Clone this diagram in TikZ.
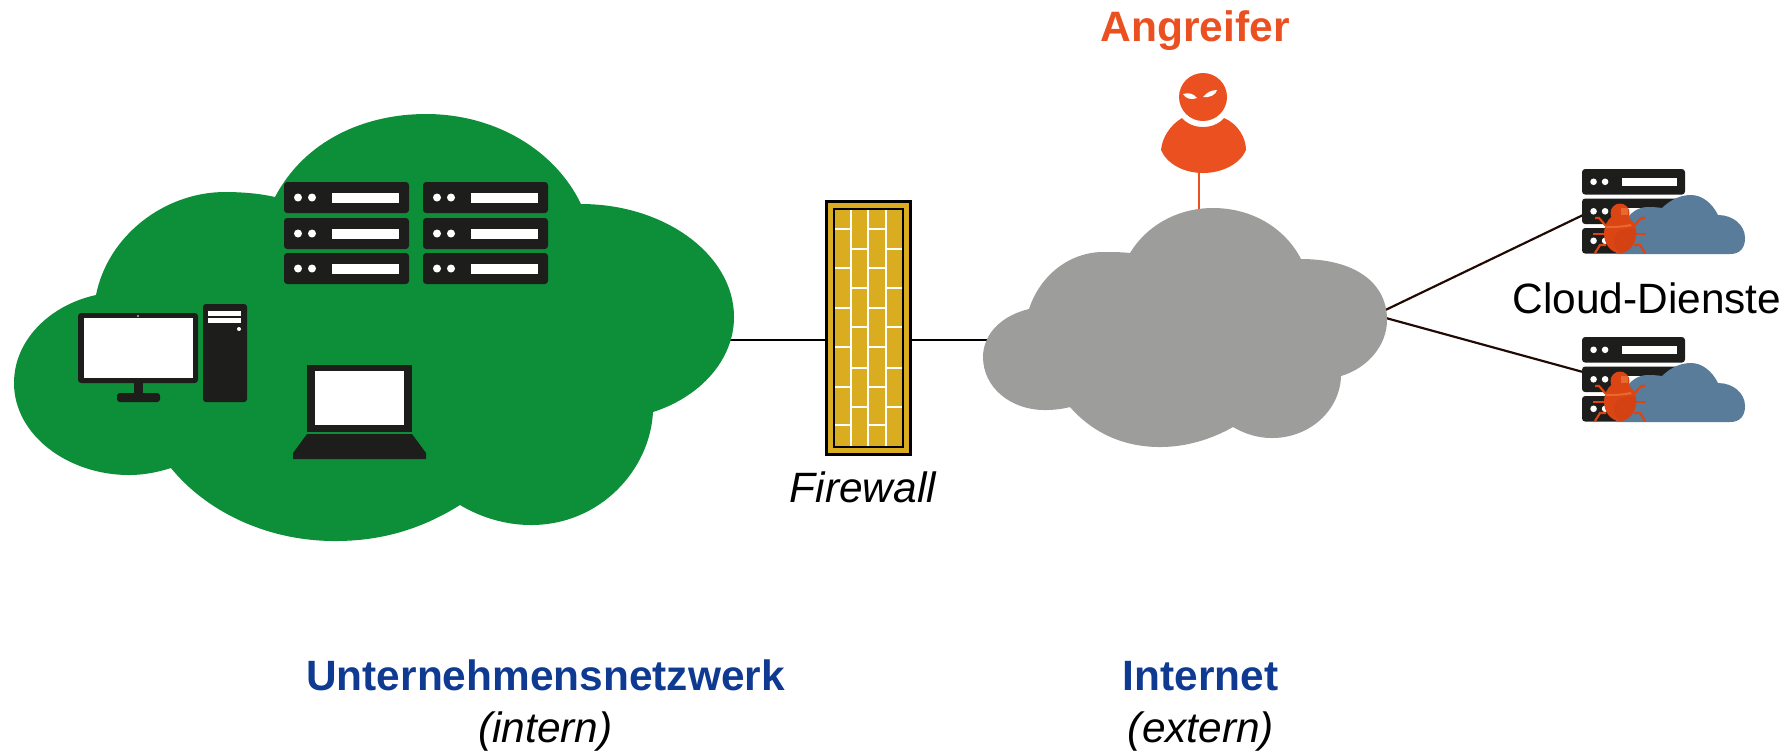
\documentclass[tikz,border=0pt]{standalone}
\usepackage{fontspec}
\setmainfont{Liberation Sans}
\definecolor{netgreen}{HTML}{0D8E38}
\definecolor{netgrey}{HTML}{9D9D9C}
\definecolor{devdark}{HTML}{1D1D1B}
\definecolor{attack}{HTML}{EB5120}
\definecolor{wallyellow}{HTML}{DAAC20}
\definecolor{titleblue}{HTML}{0F3A92}
\definecolor{cloudblue}{HTML}{587C99}
\definecolor{bugred}{HTML}{DA4513}
\definecolor{buglight}{HTML}{E8692F}
\definecolor{bugdark}{HTML}{D44112}
\tikzset{
  label12/.style={inner sep=0pt,anchor=base,font=\fontsize{12.06}{14}\selectfont},
  title/.style={label12,text=titleblue,font=\fontsize{12.06}{14}\selectfont\bfseries},
  sub/.style={label12,text=black,font=\fontsize{12.06}{14}\selectfont\itshape},
  link/.style={draw=black,line width=0.6pt},
  extlink/.style={draw=black!85!bugred,line width=0.62pt},
  mortar/.style={draw=white,line width=0.55pt},
  dev/.style={fill=devdark,draw=none},
  hole/.style={fill=white,draw=none},
  leg/.style={draw=bugred,line width=0.62pt},
  wallbox/.style={draw=black,fill=wallyellow,line width=0.8pt,minimum width=0.84cm,minimum height=2.53cm,inner sep=0pt},
}
\newcommand{\rack}[3]{%
  \begin{scope}[shift={(#1,#2)},scale=#3]
    \fill[dev,rounded corners=0.9pt] (0,0) rectangle (125,31);
    \fill[hole] (14,15.5) circle [radius=4];
    \fill[hole] (28,15.5) circle [radius=4];
    \fill[hole] (48,11) rectangle (115,21);
  \end{scope}}
\newcommand{\infected}[1]{%
  \begin{scope}[shift={(0,#1)}]
    \rack{1582}{169}{0.824}
    \rack{1582}{198.5}{0.824}
    \rack{1582}{228}{0.824}
    \fill[cloudblue] (1616,254) -- (1730,254) .. controls (1740,254) and (1745,248) .. (1745,238)
      .. controls (1745,225) and (1733,215) .. (1718,215)
      .. controls (1712,203) and (1702,195) .. (1691,195)
      .. controls (1680,195) and (1670,200) .. (1662,208)
      .. controls (1656,207) and (1651,207) .. (1648,207)
      .. controls (1630,207) and (1618,225) .. cycle;
    \draw[leg] (1593,234) -- (1646,234);
    \draw[leg] (1606,226) -- (1599,218) -- (1595,218);
    \draw[leg] (1634,226) -- (1641,218) -- (1645,218);
    \draw[leg] (1606,245) -- (1600,245) -- (1595,253);
    \draw[leg] (1634,245) -- (1640,245) -- (1645,253);
    \fill[bugred] (1620,213) circle [radius=9.5];
    \fill[bugred] (1620,233.5) ellipse [x radius=16,y radius=19.5];
    \fill[buglight] (1621,208) rectangle (1628,215);
    \fill[buglight] (1605,226) .. controls (1612,226) and (1622,226) .. (1630,224) -- (1632,226) .. controls (1622,228) and (1612,228) .. (1606,228) -- cycle;
    \fill[bugdark] (1620,253) .. controls (1612,246) and (1612,234) .. (1622,230) .. controls (1630,228) and (1634,228) .. (1636,230) .. controls (1637,243) and (1630,252) .. (1620,253) -- cycle;
  \end{scope}}
\begin{document}
\begin{tikzpicture}[x=0.01cm,y=-0.01cm]
\useasboundingbox (0,0) rectangle (1789,750);

% firewall
\node[wallbox] (fw) at (868.5,328) {};
\draw[draw=black,line width=0.6pt] (834,209) rectangle (903,447);
\foreach \xa in {851,868,886} \draw[mortar] (\xa,210) -- (\xa,446);
\foreach \ya in {229,268,308,347,387,425} {
  \draw[mortar] (835,\ya) -- (851,\ya);
  \draw[mortar] (868,\ya) -- (886,\ya);
}
\foreach \ya in {249,288,327,368,407} {
  \draw[mortar] (851,\ya) -- (868,\ya);
  \draw[mortar] (886,\ya) -- (902,\ya);
}

% connector ends
\coordinate (greenport) at (725,340);
\coordinate (greyport) at (1000,340);
\coordinate (attackfoot) at (1199,215);
\coordinate (attackneck) at (1199,170);
\coordinate (greyup) at (1375,315);
\coordinate (greydown) at (1375,315);
\coordinate (rackup) at (1583,215);
\coordinate (rackdown) at (1583,372);

\draw[link] (greenport) -- (fw.west |- greenport);
\draw[link] (fw.east |- greyport) -- (greyport);
\draw[draw=attack,line width=0.6pt] (attackneck) -- (attackfoot);
\draw[extlink] (greyup) -- (rackup);
\draw[extlink] (greydown) -- (rackdown);

% green cloud
\fill[netgreen] (96,295) .. controls (108,235) and (165,192) .. (225,192)
  .. controls (245,192) and (262,194) .. (275,197)
  .. controls (305,140) and (365,114) .. (426,114)
  .. controls (495,114) and (555,150) .. (581,204)
  .. controls (665,204) and (734,255) .. (734,317)
  .. controls (734,360) and (700,397) .. (653,412)
  .. controls (650,470) and (600,525) .. (531,525)
  .. controls (505,525) and (480,517) .. (460,505)
  .. controls (420,530) and (380,541) .. (335,541)
  .. controls (265,541) and (205,510) .. (171,468)
  .. controls (155,473) and (142,475) .. (129,475)
  .. controls (68,475) and (14,435) .. (14,383)
  .. controls (14,340) and (50,305) .. cycle;

% grey cloud
\fill[netgrey] (1029,309) .. controls (1040,275) and (1070,252) .. (1103,252)
  .. controls (1112,252) and (1122,252) .. (1130,253)
  .. controls (1147,225) and (1178,208) .. (1213,208)
  .. controls (1252,208) and (1285,228) .. (1301,259)
  .. controls (1354,259) and (1387,282) .. (1387,320)
  .. controls (1387,345) and (1368,368) .. (1341,376)
  .. controls (1340,410) and (1310,438) .. (1272,438)
  .. controls (1258,438) and (1245,434) .. (1233,427)
  .. controls (1210,440) and (1185,447) .. (1160,447)
  .. controls (1120,447) and (1090,430) .. (1070,407)
  .. controls (1062,409) and (1054,410) .. (1045,410)
  .. controls (1010,410) and (983,387) .. (983,357)
  .. controls (983,333) and (1003,315) .. cycle;

% servers in the green cloud
\foreach \xa in {284,423} \foreach \ya in {182,218,253} { \rack{\xa}{\ya}{1} }

% desktop
\fill[dev,rounded corners=0.9pt] (78,313) rectangle (198,383);
\fill[hole] (84,318) rectangle (193,378);
\fill[hole] (138,316) circle [radius=0.8];
\fill[dev] (134,382) rectangle (143,394);
\fill[dev,rounded corners=0.8pt] (117,393) rectangle (160,402);
\fill[dev,rounded corners=0.8pt] (203,304) rectangle (247,402);
\fill[hole] (208,311) rectangle (241,316);
\fill[hole] (208,318) rectangle (241,323);
\fill[hole] (239,329) circle [radius=2];

% laptop
\fill[dev] (307,365) rectangle (412,432);
\fill[hole] (315,371) rectangle (404,425);
\fill[dev] (307,434) -- (412,434) -- (426,453) -- (426,459) -- (293,459) -- (293,453) -- cycle;

% attacker
\fill[attack] (1203,97) circle [radius=24];
\fill[attack] (1182,118) .. controls (1192,130) and (1214,130) .. (1224,118)
  .. controls (1238,124) and (1246,138) .. (1246,150)
  .. controls (1240,164) and (1222,173) .. (1203,173)
  .. controls (1184,173) and (1167,164) .. (1161,150)
  .. controls (1162,138) and (1170,125) .. cycle;
\fill[hole] (1183,94) .. controls (1189,92) and (1194,94) .. (1197,98) .. controls (1191,100) and (1186,99) .. cycle;
\fill[hole] (1203,97) .. controls (1207,92) and (1212,90) .. (1217,90) .. controls (1216,95) and (1209,98) .. cycle;

% cloud services
\infected{0}
\infected{168}

% texts
\node[label12,text=attack,font=\fontsize{12.1}{14}\selectfont\bfseries] (tattack) at (1195,41) {Angreifer};
\node[sub] (tfw) at (863,502) {Firewall};
\node[label12] (tcloud) at (1647,313) {Cloud-Dienste};
\node[title] (tcorp) at (545.5,690) {Unternehmensnetzwerk};
\node[sub] (tintern) at (545.5,742) {(intern)};
\node[title] (tnet) at (1200.5,690) {Internet};
\node[sub] (textern) at (1201,742) {(extern)};
\end{tikzpicture}
\end{document}
